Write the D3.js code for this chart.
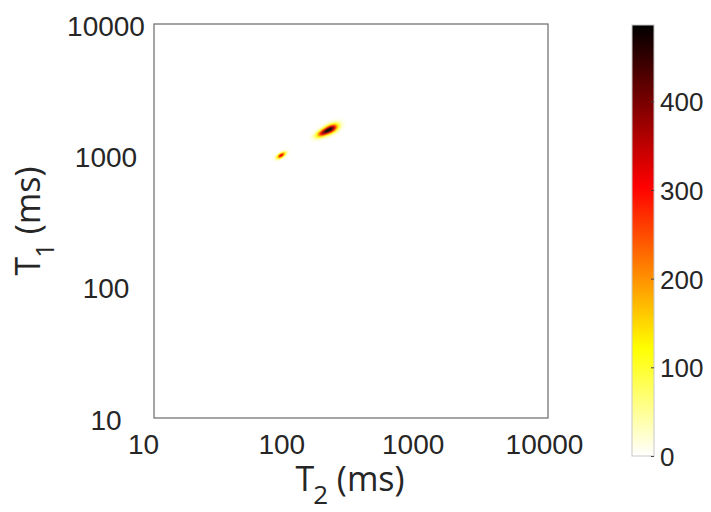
<!DOCTYPE html>
<html>
<head>
<meta charset="utf-8">
<script src="https://cdn.jsdelivr.net/npm/d3@7"></script>
<style>
body { margin: 0; background: #fff; }
</style>
</head>
<body>
<div id="chart"></div>
<script>
var axisTicks = [10, 100, 1000, 10000];
var colorTicks = [0, 100, 200, 300, 400];
var colorMax = 486;

// peaks of the T1-T2 map: position (ms), height, spread (log10 decades), tilt (deg)
var peakT2 = [223, 194, 93];
var peakT1 = [1600, 1493, 1006];
var peakAmp = [420, 300, 340];
var peakSpreadMajor = [0.039, 0.039, 0.024];
var peakSpreadMinor = [0.020, 0.017, 0.011];
var peakAngle = [27, 27, 32];

var gridStep = 0.0075;

var W = 711, H = 512;
var plot = {left: 154, top: 24, size: 394};
var bar = {left: 632, width: 22, top: 25, bottom: 456};

var svg = d3.select("#chart").append("svg").attr("width", W).attr("height", H);

var x = d3.scaleLog().domain([10, 10000]).range([plot.left, plot.left + plot.size]);
var y = d3.scaleLog().domain([10, 10000]).range([plot.top + plot.size, plot.top]);

function clamp(v) { return Math.max(0, Math.min(1, v)); }
function hotReversed(t) {
    var h = 1 - t;
    return d3.rgb(255 * clamp(h / 0.375), 255 * clamp((h - 0.375) / 0.375), 255 * clamp((h - 0.75) / 0.25)) + "";
}
var color = d3.scaleSequential(hotReversed).domain([0, colorMax]).clamp(true);

function density(u, v) {
    var s = 0;
    for (var k = 0; k < peakT2.length; k++) {
        var du = u - Math.log10(peakT2[k]), dv = v - Math.log10(peakT1[k]);
        var th = peakAngle[k] * Math.PI / 180;
        var a = du * Math.cos(th) + dv * Math.sin(th);
        var b = -du * Math.sin(th) + dv * Math.cos(th);
        var sa = peakSpreadMajor[k], sb = peakSpreadMinor[k];
        s += peakAmp[k] * Math.exp(-(a * a) / (2 * sa * sa) - (b * b) / (2 * sb * sb));
    }
    return s;
}

var cells = [];
var n = Math.round(3 / gridStep);
for (var i = 0; i < n; i++) {
    for (var j = 0; j < n; j++) {
        var u = 1 + i * gridStep, v = 1 + j * gridStep;
        var val = density(u + gridStep / 2, v + gridStep / 2);
        if (val > 2) cells.push({t2: Math.pow(10, u), t2b: Math.pow(10, u + gridStep),
            t1: Math.pow(10, v), t1b: Math.pow(10, v + gridStep), value: val});
    }
}

svg.append("g").selectAll("rect").data(cells).enter().append("rect")
    .attr("x", function (d) { return x(d.t2); })
    .attr("y", function (d) { return y(d.t1b); })
    .attr("width", function (d) { return x(d.t2b) - x(d.t2) + 0.4; })
    .attr("height", function (d) { return y(d.t1) - y(d.t1b) + 0.4; })
    .style("fill", function (d) { return color(d.value); });

// box
svg.append("rect")
    .attr("x", plot.left).attr("y", plot.top)
    .attr("width", plot.size).attr("height", plot.size)
    .style("fill", "none").style("stroke", "#6a6a6a").style("stroke-width", 1.2);

var tickFont = "'Liberation Sans', Arial, Helvetica, sans-serif";
var titleFont = "'Open Sans', 'DejaVu Sans', sans-serif";

var xAxis = svg.append("g")
    .attr("transform", "translate(0," + (plot.top + plot.size) + ")")
    .call(d3.axisBottom(x).tickValues(axisTicks).tickSize(0).tickFormat(d3.format("d")));
xAxis.select(".domain").remove();
xAxis.selectAll("text")
    .attr("y", 36).attr("dy", 0)
    .attr("dx", function (d, i) { return i === 0 ? -11 : -4; })
    .style("font-family", tickFont).style("font-size", "28px").style("fill", "#262626");

var yAxis = svg.append("g")
    .attr("transform", "translate(106,0)")
    .call(d3.axisLeft(y).tickValues(axisTicks).tickSize(0).tickFormat(d3.format("d")));
yAxis.select(".domain").remove();
yAxis.selectAll("text")
    .attr("x", 0).attr("dy", "0.4em")
    .style("text-anchor", "middle")
    .style("font-family", tickFont).style("font-size", "28px").style("fill", "#262626");

// axis titles
var xt = svg.append("text")
    .attr("x", plot.left + plot.size / 2 - 1).attr("y", 491)
    .style("text-anchor", "middle")
    .style("font-family", titleFont).style("font-size", "34px").style("fill", "#262626");
xt.append("tspan").text("T");
xt.append("tspan").attr("dy", 13).attr("dx", -1).style("font-size", "26px").text("2");
xt.append("tspan").attr("dy", -13).text(" (ms)");

var yt = svg.append("text")
    .attr("transform", "translate(40," + (plot.top + plot.size / 2) + ") rotate(-90)")
    .style("text-anchor", "middle")
    .style("font-family", titleFont).style("font-size", "34px").style("fill", "#262626");
yt.append("tspan").text("T");
yt.append("tspan").attr("dy", 14).attr("dx", -1).style("font-size", "26px").text("1");
yt.append("tspan").attr("dy", -14).text(" (ms)");

// colorbar
var cy = d3.scaleLinear().domain([0, colorMax]).range([bar.bottom, bar.top]);
var grad = svg.append("defs").append("linearGradient")
    .attr("id", "cbar").attr("x1", 0).attr("y1", 1).attr("x2", 0).attr("y2", 0);
grad.selectAll("stop").data(d3.range(0, 1.0001, 1 / 64)).enter().append("stop")
    .attr("offset", function (d) { return d; })
    .attr("stop-color", function (d) { return color(d * colorMax); });
svg.append("rect")
    .attr("x", bar.left).attr("y", cy(colorMax))
    .attr("width", bar.width).attr("height", cy(0) - cy(colorMax))
    .style("fill", "url(#cbar)").style("stroke", "#c8c8c8").style("stroke-width", 1);

var cAxis = svg.append("g")
    .attr("transform", "translate(" + (bar.left + bar.width) + ",0)")
    .call(d3.axisRight(cy).tickValues(colorTicks).tickSize(0).tickFormat(d3.format("d")));
cAxis.select(".domain").remove();
cAxis.selectAll(".tick line").attr("x1", -3).attr("x2", 0).style("stroke", "#444");
cAxis.selectAll("text")
    .attr("x", 6).attr("dy", "0.36em")
    .style("font-family", tickFont).style("font-size", "26px").style("fill", "#262626");
</script>
</body>
</html>
